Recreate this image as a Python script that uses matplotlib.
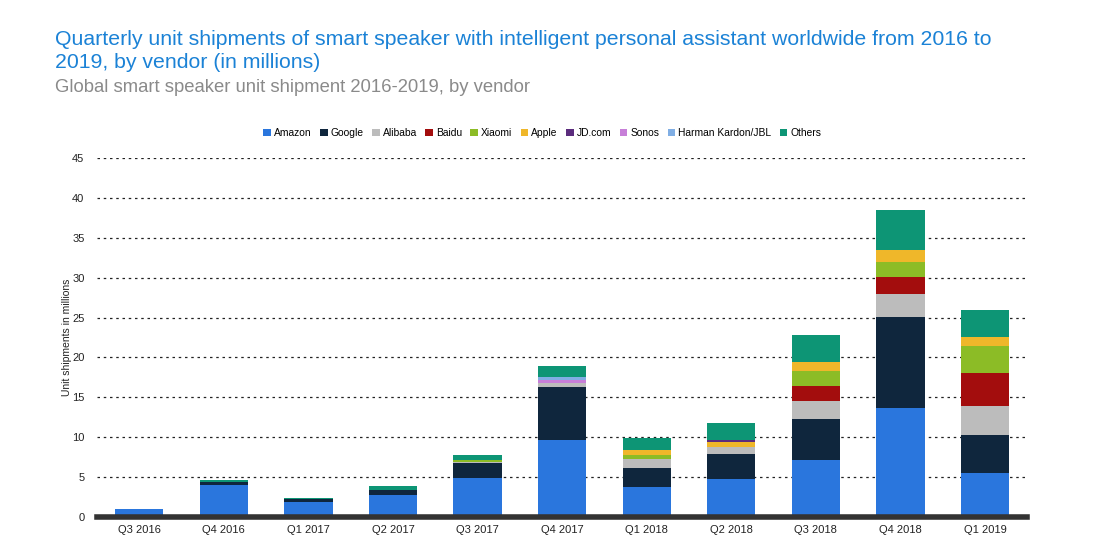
import numpy as np
import matplotlib.pyplot as plt

plt.rcParams['font.family'] = ['Liberation Sans', 'DejaVu Sans']

quarters = ["Q3 2016", "Q4 2016", "Q1 2017", "Q2 2017", "Q3 2017", "Q4 2017",
            "Q1 2018", "Q2 2018", "Q3 2018", "Q4 2018", "Q1 2019"]

amazon  = [1.0, 4.0, 1.9, 2.75, 4.9, 9.65, 3.76, 4.76, 7.14, 13.7, 5.5]
google  = [0.0, 0.4, 0.35, 0.65, 1.9, 6.65, 2.34, 3.14, 5.16, 11.4, 4.8]
alibaba = [0.0, 0.0, 0.0, 0.0, 0.1, 0.5, 1.2, 0.9, 2.2, 2.8, 3.6]
baidu   = [0.0, 0.0, 0.0, 0.0, 0.0, 0.0, 0.0, 0.0, 1.9, 2.2, 4.1]
xiaomi  = [0.0, 0.0, 0.0, 0.0, 0.2, 0.0, 0.5, 0.0, 1.9, 1.9, 3.4]
apple   = [0.0, 0.0, 0.0, 0.0, 0.0, 0.0, 0.6, 0.6, 1.1, 1.5, 1.2]
jd      = [0.0, 0.0, 0.0, 0.0, 0.0, 0.0, 0.0, 0.3, 0.0, 0.0, 0.0]
sonos   = [0.0, 0.0, 0.0, 0.0, 0.0, 0.4, 0.0, 0.0, 0.0, 0.0, 0.0]
harman  = [0.0, 0.0, 0.0, 0.0, 0.0, 0.3, 0.0, 0.0, 0.0, 0.0, 0.0]
others  = [0.0, 0.2, 0.1, 0.5, 0.7, 1.4, 1.5, 2.1, 3.4, 5.0, 3.3]

vendors = ["Amazon", "Google", "Alibaba", "Baidu", "Xiaomi", "Apple",
           "JD.com", "Sonos", "Harman Kardon/JBL", "Others"]
series = [amazon, google, alibaba, baidu, xiaomi, apple, jd, sonos, harman, others]
colors = ["#2a76dd", "#0f263d", "#bcbcbc", "#a30d0d", "#8cbc26", "#efb72a",
          "#5b2c7d", "#c77fd8", "#80aee4", "#0d9575"]

fig = plt.figure(figsize=(11.07, 5.54), dpi=100)
ax = fig.add_axes([0.0876, 0.0668, 0.8404, 0.648])

x = np.arange(len(quarters))
bottom = np.zeros(len(quarters))
for name, vals, c in zip(vendors, series, colors):
    vals = np.array(vals)
    ax.bar(x, vals, 0.57, bottom=bottom, color=c, label=name, zorder=3)
    bottom += vals

ax.set_xlim(-0.5, 10.5)
ax.set_ylim(0, 45)
ax.set_yticks(np.arange(0, 46, 5))
ax.set_xticks(x)
ax.set_xticklabels(quarters)
ax.tick_params(axis='both', length=0, labelsize=8, colors="#222222")
ax.tick_params(axis='y', pad=9)
ax.tick_params(axis='x', pad=6)
ax.yaxis.grid(True, linestyle=(0, (2, 3)), color="#222222", linewidth=0.9, zorder=0)
for s in ["top", "right", "left"]:
    ax.spines[s].set_visible(False)
ax.spines["bottom"].set_color("#333333")
ax.spines["bottom"].set_linewidth(4)
ax.spines["bottom"].set_zorder(4)
ax.set_ylabel("Unit shipments in millions", fontsize=7.5, color="#222222", labelpad=0)

ax.legend(loc="center", bbox_to_anchor=(0.49, 0.76), bbox_transform=fig.transFigure,
          ncol=10, frameon=False, fontsize=7.4, handlelength=0.75, handleheight=0.75,
          handletextpad=0.3, columnspacing=0.8)

fig.text(0.05, 0.946, "Quarterly unit shipments of smart speaker with intelligent personal assistant worldwide from 2016 to\n2019, by vendor (in millions)",
         fontsize=15.3, color="#1b82d6", va="top", ha="left", linespacing=1.25)
fig.text(0.05, 0.858, "Global smart speaker unit shipment 2016-2019, by vendor",
         fontsize=13.3, color="#8a8a8a", va="top", ha="left")

fig.savefig("out.png", dpi=100)
